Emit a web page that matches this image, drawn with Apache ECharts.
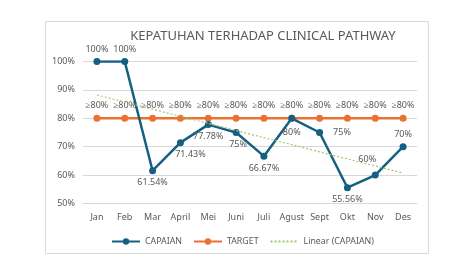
<!DOCTYPE html>
<html><head><meta charset="utf-8">
<script src="https://cdn.jsdelivr.net/npm/echarts@6/dist/echarts.min.js"></script>
<style>html,body{margin:0;padding:0;background:#fff}#c{width:474px;height:266px}</style>
</head><body><div id="c"></div>
<script>
const months = ['Jan','Feb','Mar','April','Mei','Juni','Juli','Agust','Sept','Okt','Nov','Des'];
const capaian = [100, 100, 61.54, 71.43, 77.78, 75, 66.67, 80, 75, 55.56, 60, 70];
const capaianLabels = ['100%','100%','61.54%','71.43%','77.78%','75%','66.67%','80%','75%','55.56%','60%','70%'];
const target = [80, 80, 80, 80, 80, 80, 80, 80, 80, 80, 80, 80];
const targetLabel = '≥80%';
const trend = [88.2, null, null, null, null, null, null, null, null, null, null, 60.7];
const yTicks = [50, 60, 70, 80, 90, 100];

const FONT = 'Noto Sans';
const GRAY = '#595959';
const BLUE = '#156082';
const ORANGE = '#E97132';
const GREEN = '#9BCB6B';

const labelPos = ['top','top','bottom','bottom','bottom','bottom','bottom','bottom','right','bottom','top','top'];
const labelOff = [[0,0],[0,0],[0,0],[10,0],[0,0],[2,0],[0,0],[0,2],[6,0],[0,0],[-8,-4],[0,0]];

const chart = echarts.init(document.getElementById('c'), null, {renderer:'canvas'});
chart.setOption({
  animation: false,
  backgroundColor: '#fff',
  textStyle: {fontFamily: FONT},
  graphic: [{type:'rect', shape:{x:45.5, y:21.5, width:383, height:232}, style:{fill:'none', stroke:'#d9d9d9', lineWidth:1}, silent:true}],
  title: {text:'KEPATUHAN TERHADAP CLINICAL PATHWAY', left: 258, textAlign:'center', top: 25,
    textStyle:{fontFamily:FONT, fontSize:13, fontWeight:'normal', color:GRAY}},
  grid: {left:83, right:57, top:61.5, bottom:62.5},
  legend: {top: 232, left: 106, itemWidth: 28, itemHeight: 8, itemGap: 11,
    textStyle:{fontFamily:FONT, fontSize:8.8, color:GRAY},
    data:['CAPAIAN','TARGET',{name:'Linear (CAPAIAN)', itemStyle:{opacity:0}}]},
  xAxis: {type:'category', data: months, boundaryGap:true,
    axisLine:{show:true, lineStyle:{color:'#d9d9d9'}}, axisTick:{show:false},
    axisLabel:{color:GRAY, fontSize:9, fontFamily:FONT, margin:9, interval:0}},
  yAxis: {type:'value', min: yTicks[0], max: yTicks[yTicks.length-1], interval: 10,
    axisLine:{show:false}, axisTick:{show:false},
    splitLine:{lineStyle:{color:'#d9d9d9'}},
    axisLabel:{color:GRAY, fontSize:9, fontFamily:FONT, formatter:'{value}%', margin:8}},
  series: [
    {name:'CAPAIAN', type:'line', z:4,
      data: capaian.map((v,i)=>({value:v,
        label:{show:true, position:labelPos[i], offset:labelOff[i], formatter: capaianLabels[i]}})),
      symbol:'circle', symbolSize:7, itemStyle:{color:BLUE}, lineStyle:{color:BLUE, width:2.5},
      label:{color:GRAY, fontSize:9, fontFamily:FONT, distance:4}},
    {name:'TARGET', type:'line', z:3,
      data: target, symbol:'circle', symbolSize:7, itemStyle:{color:ORANGE}, lineStyle:{color:ORANGE, width:2.5},
      label:{show:true, position:'top', formatter: targetLabel, color:GRAY, fontSize:9, fontFamily:FONT, distance:5}},
    {name:'Linear (CAPAIAN)', type:'line', z:5, data: trend, connectNulls:true, symbol:'none',
      itemStyle:{color:GREEN}, lineStyle:{color:GREEN, width:1.2, type:[2,2]}}
  ]
});
</script></body></html>
